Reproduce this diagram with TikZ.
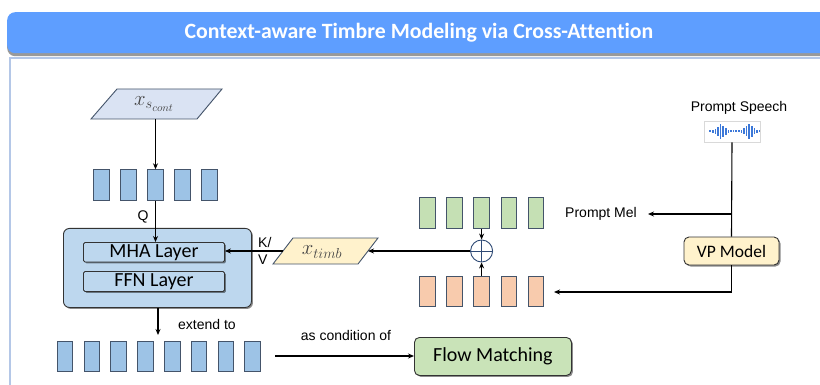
\documentclass[tikz,border=0pt]{standalone}
\usepackage{fontspec}
\setmainfont{Liberation Sans}
\newfontfamily\carl[Ligatures=NoCommon]{Carlito}
\usetikzlibrary{arrows.meta,shadows}
\definecolor{titleblue}{HTML}{5E9EFF}
\definecolor{framec}{HTML}{B4C7E7}
\definecolor{tokblue}{HTML}{9DC3E6}
\definecolor{tokgreen}{HTML}{C5E0B4}
\definecolor{tokorange}{HTML}{F8CBAD}
\definecolor{tokline}{HTML}{44546A}
\definecolor{encfill}{HTML}{BDD7EE}
\definecolor{paraBlue}{HTML}{DAE3F3}
\definecolor{paraYellow}{HTML}{FFF2CC}
\definecolor{flowgreen}{HTML}{C9E3B8}
\definecolor{wavec}{HTML}{3C78D8}
\definecolor{mathgray}{HTML}{454545}
\definecolor{plusc}{HTML}{2F4A75}
\begin{document}
\begin{tikzpicture}[x=1pt,y=-1pt,
  tok/.style={draw=tokline, line width=0.9pt, inner sep=0pt, minimum width=15.5pt, minimum height=30.5pt},
  bluetok/.style={tok, fill=tokblue},
  greentok/.style={tok, fill=tokgreen},
  orangetok/.style={tok, fill=tokorange},
  arr/.style={-{Stealth[length=6pt,width=5pt]}, line width=1.1pt},
  plain/.style={line width=1.1pt},
  lbl/.style={font=\fontsize{14}{16}\selectfont, inner sep=0pt},
  shad/.style={drop shadow={shadow xshift=1.5pt, shadow yshift=-1.5pt, opacity=0.45, fill=black}},
  layerbox/.style={draw=black!80, line width=0.9pt, fill=encfill, rounded corners=1.5pt, inner sep=0pt, font=\carl\fontsize{20}{22}\selectfont, shad},
  modelbox/.style={draw=black!80, line width=0.9pt, rounded corners=5pt, inner sep=0pt, shad},
  para/.style={draw=tokline, line width=0.9pt},
  mathlbl/.style={text=mathgray, inner sep=0pt, font=\fontsize{21}{22}\selectfont}
]
\useasboundingbox (0,0) rectangle (820,385);

% frame and title bar
\draw[framec, line width=1.6pt] (10,58) rectangle (840,400);
\node[fill=titleblue, rounded corners=8pt, anchor=north west, minimum width=840pt, minimum height=41pt, inner sep=0pt,
      drop shadow={shadow xshift=0pt, shadow yshift=-3pt, opacity=0.4, fill=black}] (bar) at (7,12) {};
\node[text=white, inner sep=0pt, font=\carl\bfseries\fontsize{21.8}{24}\selectfont] (title) at (419,33) {Context-aware Timbre Modeling via Cross-Attention};

% x_s_cont parallelogram
\draw[para, fill=paraBlue] (91,119) -- (117,89) -- (222,89) -- (197,119) -- cycle;
\node[mathlbl] (xs) at (154,104) {$x_{s_{cont}}$};
\coordinate (xsb) at (155.5,119);

% top blue tokens
\foreach \i in {1,...,5} {
  \node[bluetok] (b\i) at ({74.5+27*\i},185) {};
}
\draw[arr] (xsb) -- (b3.north);

% encoder block
\node[draw=black!80, line width=0.9pt, fill=encfill, rounded corners=6pt, anchor=north west, minimum width=188pt, minimum height=79pt, inner sep=0pt, shad] (enc) at (63,228) {};
\node[layerbox, anchor=north west, minimum width=141pt, minimum height=19.5pt] (mha) at (83,242) {MHA Layer};
\node[layerbox, anchor=north west, minimum width=141pt, minimum height=20pt] (ffn) at (83,271) {FFN Layer};
\draw[arr] (b3.south) -- (b3.south |- mha.north);
\node[lbl] (q) at (143,217) {Q};

% x_timb parallelogram
\draw[para, fill=paraYellow] (273,264) -- (293,238) -- (378,238) -- (358,264) -- cycle;
\node[mathlbl] (xt) at (322,252) {$x_{timb}$};
\coordinate (xtl) at (283,251);
\coordinate (xtr) at (368,251);
\draw[arr] (xtl) -- (mha.east |- xtl);
\node[lbl, anchor=west] (k) at (258,242) {K/};
\node[lbl, anchor=west] (v) at (258,260) {V};

% green and orange tokens
\foreach \i in {1,...,5} {
  \node[greentok] (g\i) at ({400+27.2*\i},213) {};
  \node[orangetok] (o\i) at ({400+27.2*\i},291.5) {};
}
\node[draw=plusc, line width=0.9pt, fill=white, circle, minimum size=22pt, inner sep=0pt] (plus) at (g3.south |- 0,251) {};
\draw[plusc, line width=0.8pt] (plus.north) -- (plus.south) (plus.west) -- (plus.east);
\draw[arr] (g3.south) -- (plus.north);
\draw[arr] (o3.north) -- (plus.south);
\draw[arr] (plus.west) -- (xtr);

% prompt speech
\node[lbl] (ps) at (739,108) {Prompt Speech};
\node[draw=black!15, fill=white, line width=0.6pt, minimum width=56pt, minimum height=21pt, inner sep=0pt] (wave) at (732,131.5) {};
\foreach \h [count=\k] in {2,3,5,9,15,11,7,3,2,2,2,2,3,6,10,15,11,6,3,2} {
  \fill[wavec] ({707.5+2.6*\k-0.8},{131.5-\h/2}) rectangle ({707.5+2.6*\k+0.8},{131.5+\h/2});
}
\node[modelbox, fill=paraYellow, minimum width=95pt, minimum height=28pt, font=\carl\fontsize{17.5}{19}\selectfont] (vp) at (731.5,251) {VP Model};
\coordinate (br) at (wave.south |- 0,214);
\draw[plain] (wave.south) -- (vp.north);
\coordinate (pmtip) at (648,214);
\draw[arr] (br) -- (pmtip);
\node[lbl, anchor=east] (pm) at (637,214) {Prompt Mel};
\coordinate (vpc) at (vp.south |- 0,292);
\coordinate (otip) at (554,292);
\draw[plain] (vp.south) -- (vpc);
\draw[arr] (vpc) -- (otip);

% bottom row
\draw[arr] (enc.south -| 158,0) -- (158,335);
\node[lbl, anchor=west] (ext) at (178,324) {extend to};
\foreach \i in {0,...,7} {
  \node[bluetok] (c\i) at ({65+26.8*\i},356.5) {};
}
\node[modelbox, fill=flowgreen, anchor=north west, minimum width=157pt, minimum height=38pt, font=\carl\fontsize{20}{22}\selectfont] (fm) at (414,337) {Flow Matching};
\coordinate (cst) at (275,356);
\draw[arr] (cst) -- (fm.west |- cst);
\node[lbl] (cond) at (346,335) {as condition of};
\end{tikzpicture}
\end{document}
